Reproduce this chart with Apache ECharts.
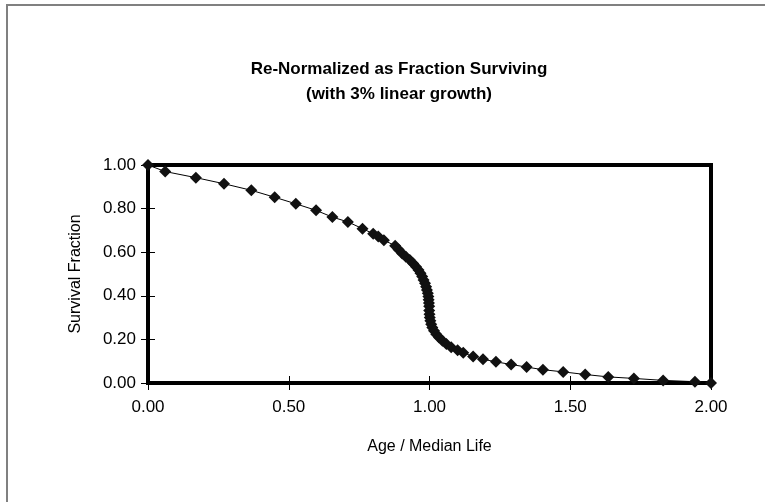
<!DOCTYPE html>
<html>
<head>
<meta charset="utf-8">
<script src="https://cdn.jsdelivr.net/npm/echarts@6/dist/echarts.min.js"></script>
<style>
  html, body { margin: 0; padding: 0; background: #fff; }
  #chart { width: 765px; height: 502px; }
</style>
</head>
<body>
<div id="chart"></div>
<script>
// Age / Median Life
const ages = [0, 0.061, 0.170, 0.270, 0.367, 0.450, 0.525, 0.597, 0.655, 0.710,
  0.762, 0.800, 0.818, 0.838, 0.878, 0.890, 0.903, 0.916, 0.930, 0.942,
  0.952, 0.961, 0.968, 0.974, 0.979, 0.984, 0.988, 0.991, 0.994, 0.996,
  0.997, 0.998, 0.999, 0.999, 1.000, 1.001, 1.003, 1.006, 1.010, 1.016,
  1.024, 1.034, 1.046, 1.060, 1.077, 1.100, 1.120, 1.155, 1.190, 1.236,
  1.290, 1.345, 1.403, 1.475, 1.553, 1.635, 1.726, 1.830, 1.943, 2.000]
// Survival Fraction
const survival = [1.00, 0.970, 0.942, 0.914, 0.884, 0.852, 0.822, 0.792, 0.761, 0.739,
  0.708, 0.685, 0.672, 0.655, 0.630, 0.612, 0.594, 0.579, 0.564, 0.548,
  0.533, 0.518, 0.503, 0.488, 0.473, 0.458, 0.442, 0.427, 0.412, 0.397,
  0.382, 0.367, 0.352, 0.333, 0.315, 0.300, 0.285, 0.270, 0.255, 0.240,
  0.224, 0.209, 0.194, 0.179, 0.164, 0.150, 0.139, 0.121, 0.109, 0.097,
  0.085, 0.073, 0.061, 0.051, 0.039, 0.028, 0.021, 0.012, 0.006, 0.000]

const chart = echarts.init(document.getElementById('chart'))
const font = '"Liberation Sans", Arial, sans-serif'

const points = ages.map((a, i) => [a, survival[i]])

// Excel style cross ticks: one axis with outside ticks, one overlaid with inside ticks
const xBase = { type: 'value', min: 0, max: 2, interval: 0.5, splitLine: { show: false } }
const yBase = { type: 'value', min: 0, max: 1, interval: 0.2, splitLine: { show: false } }

chart.setOption({
  animation: false,
  backgroundColor: '#fff',
  title: {
    text: 'Re-Normalized as Fraction Surviving\n(with 3% linear growth)',
    left: 394,
    top: 52,
    textAlign: 'center',
    textStyle: { fontFamily: font, fontSize: 17, fontWeight: 'bold', color: '#000', lineHeight: 25 }
  },
  graphic: [{
    type: 'rect',
    shape: { x: 7, y: 5, width: 900, height: 700 },
    style: { fill: 'none', stroke: '#808080', lineWidth: 2 }
  }],
  grid: {
    left: 148, top: 165, right: 54, bottom: 119,
    show: true, borderColor: '#000', borderWidth: 4, backgroundColor: 'transparent'
  },
  xAxis: [
    Object.assign({}, xBase, {
      name: 'Age / Median Life',
      nameLocation: 'middle',
      nameGap: 56,
      nameTextStyle: { fontFamily: font, fontSize: 16, color: '#000' },
      axisLine: { lineStyle: { color: '#000', width: 4 } },
      axisTick: { inside: false, length: 7, lineStyle: { color: '#000', width: 1 } },
      axisLabel: { margin: 16, fontFamily: font, fontSize: 17, color: '#000',
        formatter: v => v.toFixed(2) }
    }),
    Object.assign({}, xBase, {
      position: 'bottom',
      axisLine: { show: false },
      axisTick: { inside: true, length: 7, lineStyle: { color: '#000', width: 1 } },
      axisLabel: { show: false }
    })
  ],
  yAxis: [
    Object.assign({}, yBase, {
      name: 'Survival Fraction',
      nameLocation: 'middle',
      nameGap: 64,
      nameTextStyle: { fontFamily: font, fontSize: 16, color: '#000' },
      axisLine: { lineStyle: { color: '#000', width: 4 } },
      axisTick: { inside: false, length: 7, lineStyle: { color: '#000', width: 1 } },
      axisLabel: { margin: 12, fontFamily: font, fontSize: 17, color: '#000',
        formatter: v => v.toFixed(2) }
    }),
    Object.assign({}, yBase, {
      position: 'left',
      axisLine: { show: false },
      axisTick: { inside: true, length: 7, lineStyle: { color: '#000', width: 1 } },
      axisLabel: { show: false }
    })
  ],
  series: [{
    type: 'line',
    xAxisIndex: 0,
    yAxisIndex: 0,
    data: points,
    symbol: 'diamond',
    symbolSize: 12,
    clip: false,
    lineStyle: { color: '#000', width: 1 },
    itemStyle: { color: '#111', borderWidth: 0 }
  }]
})
</script>
</body>
</html>
